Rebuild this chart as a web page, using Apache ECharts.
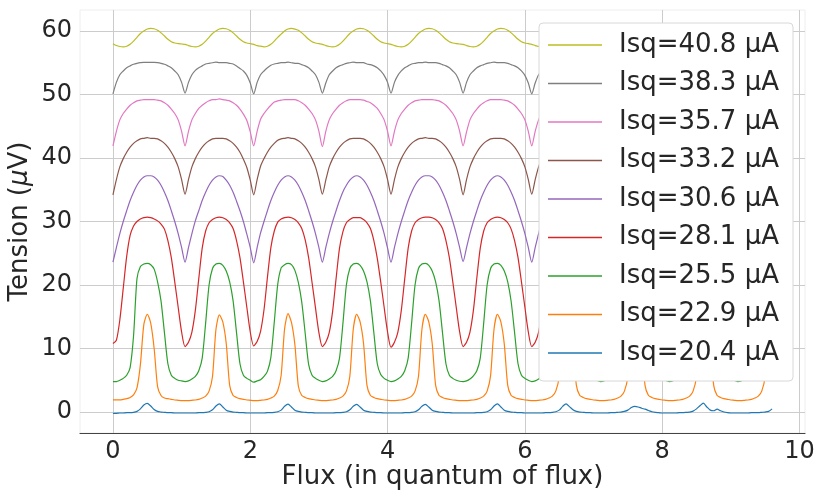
<!DOCTYPE html>
<html><head><meta charset="utf-8">
<script src="https://cdn.jsdelivr.net/npm/echarts@6/dist/echarts.min.js"></script>
<style>html,body{margin:0;padding:0;background:#fff}#c{width:816px;height:491px}</style>
</head><body><div id="c"></div>
<script>
const flux = [
0,0.05,0.1,0.15,0.2,0.25,0.3,0.35,0.4,0.45,0.5,0.55,0.6,0.65,0.7,0.75,0.8,0.85,0.9,0.95,
1,1.05,1.1,1.15,1.2,1.25,1.3,1.35,1.4,1.45,1.5,1.55,1.6,1.65,1.7,1.75,1.8,1.85,1.9,1.95,
2,2.05,2.1,2.15,2.2,2.25,2.3,2.35,2.4,2.45,2.5,2.55,2.6,2.65,2.7,2.75,2.8,2.85,2.9,2.95,
3,3.05,3.1,3.15,3.2,3.25,3.3,3.35,3.4,3.45,3.5,3.55,3.6,3.65,3.7,3.75,3.8,3.85,3.9,3.95,
4,4.05,4.1,4.15,4.2,4.25,4.3,4.35,4.4,4.45,4.5,4.55,4.6,4.65,4.7,4.75,4.8,4.85,4.9,4.95,
5,5.05,5.1,5.15,5.2,5.25,5.3,5.35,5.4,5.45,5.5,5.55,5.6,5.65,5.7,5.75,5.8,5.85,5.9,5.95,
6,6.05,6.1,6.15,6.2,6.25,6.3,6.35,6.4,6.45,6.5,6.55,6.6,6.65,6.7,6.75,6.8,6.85,6.9,6.95,
7,7.05,7.1,7.15,7.2,7.25,7.3,7.35,7.4,7.45,7.5,7.55,7.6,7.65,7.7,7.75,7.8,7.85,7.9,7.95,
8,8.05,8.1,8.15,8.2,8.25,8.3,8.35,8.4,8.45,8.5,8.55,8.6,8.65,8.7,8.75,8.8,8.85,8.9,8.95,
9,9.05,9.1,9.15,9.2,9.25,9.3,9.35,9.4,9.45,9.5,9.55,9.6];

const isq204 = [-0.2,
-0.2,-0.15,-0.15,-0.1,-0.1,-0.05,0.1,0.5,1.1,1.35,0.95,0.4,0.1,0.0,-0.05,-0.1,-0.1,-0.15,-0.15,-0.15,
-0.15,-0.15,-0.15,-0.15,-0.1,-0.1,-0.05,0.05,0.35,0.95,1.3,0.8,0.3,0.1,0.0,-0.05,-0.1,-0.1,-0.15,-0.15,
-0.15,-0.15,-0.15,-0.15,-0.1,-0.1,-0.05,0.05,0.3,0.9,1.25,0.8,0.3,0.1,0.0,-0.05,-0.1,-0.1,-0.15,-0.15,
-0.15,-0.15,-0.15,-0.15,-0.1,-0.1,-0.05,0.05,0.35,0.9,1.2,0.8,0.3,0.1,0.0,-0.05,-0.1,-0.1,-0.15,-0.15,
-0.15,-0.15,-0.15,-0.15,-0.1,-0.1,-0.05,0.05,0.35,0.9,1.2,0.8,0.3,0.1,0.0,-0.05,-0.1,-0.1,-0.15,-0.15,
-0.15,
-0.15,-0.15,-0.15,-0.15,-0.1,-0.1,-0.05,0.05,0.35,0.95,1.3,0.8,0.3,0.1,0.0,-0.05,-0.1,-0.1,-0.15,-0.15,
-0.15,-0.15,-0.15,-0.15,-0.1,-0.1,-0.05,0.05,0.3,0.9,1.3,0.85,0.35,0.1,0.0,-0.05,-0.1,-0.1,-0.15,-0.15,
-0.15,-0.15,-0.15,-0.1,-0.1,-0.05,0.0,0.1,0.3,0.7,0.9,0.8,0.6,0.45,0.25,0.05,-0.05,-0.1,-0.15,-0.15,
-0.15,-0.15,-0.15,-0.1,-0.1,-0.05,0.0,0.15,0.5,1.0,1.4,0.8,0.3,0.2,0.45,0.2,0.0,-0.1,-0.15,-0.15,
-0.15,-0.15,-0.15,-0.15,-0.1,-0.1,-0.1,-0.05,0.0,0.1,0.5];

const isq229 = [1.9,
1.9,1.9,2.0,2.1,2.3,2.7,3.8,7.5,13.8,15.4,14.0,10.0,4.0,2.6,2.2,2.1,2.0,1.9,1.85,1.8,
1.8,1.8,1.85,1.9,2.0,2.2,2.5,3.3,5.6,13.0,15.3,14.2,10.8,4.2,2.6,2.3,2.1,2.0,1.9,1.85,
1.8,1.8,1.85,1.9,2.0,2.2,2.5,3.4,5.8,13.1,15.5,14.1,10.6,4.1,2.6,2.3,2.1,2.0,1.9,1.85,
1.8,1.8,1.85,1.9,2.0,2.2,2.5,3.3,5.6,13.0,15.4,14.2,10.8,4.2,2.6,2.3,2.1,2.0,1.9,1.85,
1.8,1.8,1.85,1.9,2.0,2.2,2.5,3.3,5.6,13.0,15.4,14.2,10.8,4.2,2.6,2.3,2.1,2.0,1.9,1.85,
1.8,
1.8,1.8,1.85,1.9,2.0,2.2,2.5,3.3,5.7,13.0,15.4,14.2,10.7,4.2,2.6,2.3,2.1,2.0,1.9,1.85,
1.8,1.8,1.85,1.9,2.0,2.2,2.5,3.3,5.6,13.1,15.5,14.2,10.8,4.2,2.6,2.3,2.1,2.0,1.9,1.85,
1.8,1.8,1.85,1.9,2.0,2.2,2.5,3.3,5.6,13.0,15.4,14.2,10.8,4.2,2.6,2.3,2.1,2.0,1.9,1.85,
1.8,1.8,1.85,1.9,2.0,2.2,2.5,3.3,5.6,13.0,15.3,14.1,10.8,4.2,2.6,2.3,2.1,2.0,1.9,1.85,
1.8,1.8,1.85,1.9,2.0,2.2,2.5,3.3,5.6,13.0,15.4];

const isq255 = [4.8,
4.8,5.0,5.3,5.8,7.0,12.0,21.0,22.9,23.3,23.4,23.2,22.5,20.5,17.5,12.5,7.6,5.8,5.3,5.0,4.9,
4.8,4.9,5.2,5.6,6.5,8.5,14.0,20.0,22.6,23.3,23.4,23.1,22.2,20.5,17.5,12.5,7.6,5.8,5.3,5.0,
4.7,4.9,5.1,5.6,6.4,8.6,14.2,20.1,22.7,23.2,23.4,23.2,22.3,20.4,17.3,12.4,7.5,5.8,5.3,5.0,
4.8,4.9,5.2,5.6,6.5,8.5,14.0,20.0,22.6,23.3,23.4,23.1,22.2,20.5,17.5,12.5,7.6,5.9,5.3,5.0,
4.8,4.9,5.2,5.6,6.5,8.5,14.0,20.0,22.6,23.3,23.4,23.1,22.2,20.5,17.5,12.5,7.6,5.8,5.3,5.0,
4.85,
4.8,4.9,5.2,5.7,6.5,8.5,14.0,20.0,22.6,23.3,23.4,23.1,22.2,20.5,17.4,12.5,7.6,5.8,5.3,5.0,
4.8,4.9,5.2,5.6,6.5,8.4,13.9,20.0,22.6,23.3,23.4,23.1,22.2,20.5,17.5,12.5,7.6,5.8,5.3,5.0,
4.8,4.9,5.2,5.6,6.5,8.5,14.0,20.0,22.6,23.3,23.4,23.1,22.2,20.5,17.5,12.5,7.7,5.8,5.3,5.0,
4.8,4.9,5.2,5.6,6.5,8.5,14.0,20.0,22.6,23.3,23.4,23.1,22.2,20.5,17.5,12.5,7.6,5.8,5.3,5.0,
4.8,4.9,5.2,5.6,6.5,8.5,14.0,20.0,22.6,23.3,23.4];

const isq281 = [10.8,
11.3,14.5,19.5,24.5,27.8,29.3,30.0,30.4,30.6,30.7,30.6,30.4,30.1,29.6,28.8,27.0,24.3,20.5,16.5,12.6,
10.3,11.0,12.6,16.0,21.0,25.8,28.5,29.8,30.3,30.6,30.7,30.6,30.3,29.8,28.9,27.0,24.3,20.5,16.5,12.6,
10.4,11.1,12.7,16.1,21.2,25.9,28.5,29.9,30.4,30.6,30.7,30.6,30.3,29.8,28.9,27.1,24.3,20.4,16.4,12.5,
10.3,11.0,12.5,15.9,21.0,25.8,28.4,29.8,30.3,30.6,30.6,30.6,30.3,29.8,28.9,27.0,24.2,20.5,16.5,12.6,
10.2,11.0,12.6,16.0,21.0,25.8,28.5,29.8,30.3,30.6,30.7,30.7,30.6,30.3,29.8,28.9,27.0,24.3,20.5,16.5,12.6,
10.3,11.0,12.6,16.0,21.1,25.8,28.5,29.8,30.3,30.6,30.7,30.6,30.3,29.8,28.8,27.0,24.3,20.5,16.5,12.6,
10.3,11.0,12.6,16.0,21.0,25.7,28.5,29.8,30.3,30.6,30.7,30.6,30.3,29.8,28.9,27.0,24.3,20.5,16.6,12.7,
10.4,11.1,12.6,16.0,21.0,25.8,28.5,29.8,30.3,30.6,30.7,30.6,30.3,29.8,28.9,27.0,24.3,20.5,16.5,12.6,
10.3,11.0,12.6,16.0,21.0,25.8,28.5,29.8,30.3,30.6,30.6,30.6,30.3,29.8,28.9,27.0,24.3,20.4,16.5,12.6,
10.3,11.0,12.6,16.0,21.0,25.8,28.5,29.8,30.3,30.6,30.7];

const isq306 = [23.6,
25.9,28.1,30.0,31.7,33.3,34.6,35.7,36.5,37.0,37.2,37.2,37.0,36.5,35.7,34.6,33.3,31.7,30.0,28.1,25.9,
23.6,25.9,28.1,30.1,31.7,33.3,34.6,35.7,36.5,37.0,37.2,37.1,36.5,35.7,34.6,33.2,31.7,30.0,28.0,25.9,
23.5,25.9,28.2,30.0,31.7,33.3,34.6,35.7,36.5,37.0,37.2,37.0,36.5,35.7,34.6,33.3,31.7,30.0,28.1,25.9,
23.6,25.9,28.1,30.0,31.7,33.3,34.7,35.7,36.5,37.0,37.2,37.0,36.5,35.7,34.6,33.3,31.7,30.0,28.1,25.8,
23.6,25.9,28.1,30.0,31.7,33.3,34.6,35.7,36.5,37.0,37.2,37.2,37.0,36.5,35.7,34.6,33.3,31.7,30.0,28.1,25.9,
23.7,25.9,28.1,30.0,31.7,33.3,34.6,35.7,36.5,37.0,37.2,37.0,36.5,35.7,34.6,33.3,31.7,30.0,28.1,25.9,
23.6,25.9,28.1,30.0,31.8,33.3,34.6,35.7,36.5,37.0,37.2,37.0,36.5,35.7,34.6,33.3,31.7,30.0,28.1,25.9,
23.6,25.9,28.1,30.0,31.7,33.3,34.6,35.7,36.5,37.0,37.2,37.0,36.5,35.7,34.6,33.3,31.7,30.0,28.1,25.9,
23.5,25.9,28.1,30.0,31.7,33.3,34.6,35.7,36.5,37.0,37.2,37.0,36.5,35.7,34.6,33.3,31.7,30.0,28.1,25.9,
23.6,25.9,28.1,30.0,31.7,33.3,34.6,35.7,36.5,37.0,37.2];

const isq332 = [34.2,
36.6,38.6,39.9,40.9,41.7,42.3,42.7,43.0,43.1,43.2,43.1,43.1,43.0,42.7,42.3,41.7,40.9,39.9,38.6,36.6,
34.3,36.6,38.6,39.9,40.9,41.7,42.3,42.7,43.0,43.1,43.1,43.1,43.0,42.7,42.3,41.7,40.9,39.8,38.5,36.5,
34.2,36.6,38.7,39.9,40.9,41.7,42.3,42.8,43.0,43.1,43.2,43.1,43.0,42.7,42.3,41.7,40.9,39.9,38.6,36.6,
34.3,36.5,38.6,39.9,40.9,41.7,42.3,42.7,43.0,43.1,43.1,43.1,43.0,42.7,42.3,41.7,40.9,39.9,38.6,36.6,
34.3,36.6,38.6,39.9,40.9,41.7,42.3,42.7,43.0,43.1,43.2,43.1,43.1,43.0,42.7,42.3,41.7,40.9,39.9,38.6,36.6,
34.2,36.6,38.6,39.9,40.9,41.7,42.3,42.7,43.0,43.1,43.1,43.1,43.0,42.7,42.3,41.7,40.9,39.9,38.6,36.6,
34.3,36.6,38.6,39.9,40.8,41.7,42.3,42.7,43.0,43.1,43.2,43.1,43.0,42.7,42.3,41.7,40.9,39.9,38.6,36.5,
34.3,36.6,38.6,39.9,40.9,41.7,42.3,42.7,43.0,43.1,43.1,43.1,43.0,42.7,42.3,41.7,40.9,39.9,38.6,36.6,
34.2,36.6,38.6,39.9,40.9,41.7,42.3,42.7,43.0,43.1,43.2,43.1,43.0,42.7,42.3,41.6,40.9,39.9,38.6,36.6,
34.3,36.6,38.6,39.9,40.9,41.7,42.3,42.7,43.0,43.1,43.1];

const isq357 = [41.9,
44.2,46.0,47.0,47.7,48.3,48.7,49.0,49.1,49.2,49.2,49.2,49.2,49.1,49.0,48.7,48.3,47.7,47.0,46.0,44.2,
41.9,44.2,46.0,47.0,47.8,48.3,48.7,49.0,49.2,49.2,49.3,49.2,49.1,49.0,48.7,48.3,47.7,46.9,45.9,44.1,
41.9,44.2,46.1,47.0,47.7,48.3,48.8,49.0,49.1,49.2,49.2,49.2,49.2,49.0,48.7,48.3,47.7,47.0,46.0,44.2,
41.8,44.2,46.0,47.0,47.7,48.3,48.7,49.0,49.2,49.2,49.2,49.2,49.1,48.9,48.7,48.3,47.8,47.0,46.0,44.2,
41.9,44.2,46.0,47.0,47.7,48.3,48.7,49.0,49.1,49.2,49.2,49.2,49.2,49.1,49.0,48.7,48.3,47.7,47.0,46.0,44.2,
41.9,44.1,46.0,47.0,47.7,48.3,48.7,49.0,49.2,49.2,49.2,49.2,49.1,49.0,48.7,48.3,47.7,47.0,46.0,44.2,
41.9,44.2,46.0,47.1,47.7,48.3,48.7,49.0,49.1,49.2,49.2,49.2,49.1,49.0,48.7,48.3,47.7,47.0,45.9,44.2,
41.9,44.2,46.0,47.0,47.7,48.3,48.7,49.0,49.2,49.2,49.3,49.2,49.1,49.0,48.7,48.3,47.7,47.0,46.0,44.2,
41.8,44.2,46.0,47.0,47.7,48.3,48.7,49.0,49.1,49.2,49.2,49.2,49.2,49.0,48.7,48.3,47.7,47.0,46.0,44.1,
41.9,44.2,46.0,47.0,47.7,48.3,48.7,49.0,49.1,49.2,49.2];

const isq383 = [50.1,
51.9,53.1,53.7,54.2,54.5,54.75,54.9,55.0,55.05,55.05,55.05,55.05,55.0,54.9,54.75,54.5,54.2,53.7,53.1,51.9,
50.2,51.9,53.1,53.8,54.2,54.5,54.8,54.9,55.0,55.1,55.0,55.0,55.0,54.9,54.8,54.5,54.1,53.7,53.0,51.8,
50.1,51.9,53.1,53.7,54.2,54.6,54.8,54.9,55.0,55.0,55.1,55.0,54.9,54.9,54.7,54.5,54.2,53.7,53.1,51.9,
50.2,51.8,53.1,53.7,54.2,54.5,54.7,54.9,55.0,55.1,55.0,55.0,55.0,54.8,54.7,54.5,54.2,53.7,53.0,51.9,
50.2,51.9,53.0,53.7,54.2,54.5,54.8,54.9,55.0,55.0,55.1,55.0,55.0,55.0,54.9,54.7,54.5,54.2,53.7,53.1,51.9,
50.2,51.9,53.1,53.7,54.2,54.5,54.7,54.9,55.0,55.1,55.0,55.0,55.0,54.9,54.7,54.5,54.2,53.7,53.0,51.8,
50.1,51.8,53.1,53.7,54.2,54.5,54.8,54.9,55.0,55.0,55.1,55.0,54.9,54.9,54.7,54.5,54.2,53.7,53.1,51.9,
50.2,51.9,53.0,53.7,54.2,54.5,54.7,54.9,55.0,55.1,55.0,55.0,55.0,54.8,54.7,54.5,54.2,53.6,53.1,51.9,
50.2,51.9,53.1,53.8,54.2,54.5,54.7,54.9,55.0,55.0,55.1,55.0,55.0,54.9,54.7,54.5,54.2,53.7,53.0,51.8,
50.1,51.8,53.1,53.7,54.2,54.5,54.8,54.9,55.0,55.0,55.1];

const isq408 = [58.0,
57.7,57.55,57.5,57.6,57.9,58.4,59.0,59.6,60.0,60.3,60.4,60.35,60.1,59.7,59.2,58.7,58.3,58.1,58.0,57.95,
57.9,57.7,57.55,57.5,57.6,57.9,58.4,59.0,59.6,60.0,60.3,60.4,60.35,60.1,59.7,59.2,58.7,58.3,58.1,58.0,
57.9,57.7,57.6,57.5,57.6,57.9,58.4,59.0,59.5,60.0,60.3,60.4,60.3,60.1,59.7,59.2,58.7,58.3,58.1,58.0,
57.9,57.7,57.55,57.5,57.6,57.9,58.4,59.0,59.6,60.0,60.3,60.4,60.35,60.1,59.7,59.2,58.7,58.3,58.1,58.0,
57.9,57.7,57.55,57.5,57.6,57.9,58.4,59.0,59.6,60.0,60.3,60.4,60.35,60.1,59.7,59.2,58.7,58.3,58.1,58.0,
57.95,
57.9,57.7,57.55,57.5,57.6,57.9,58.4,59.0,59.6,60.0,60.3,60.4,60.35,60.1,59.7,59.2,58.7,58.3,58.1,58.0,
57.9,57.7,57.55,57.5,57.6,57.9,58.4,59.0,59.6,60.0,60.3,60.4,60.35,60.1,59.7,59.2,58.7,58.3,58.1,58.0,
57.9,57.7,57.55,57.5,57.6,57.9,58.4,59.0,59.6,60.0,60.3,60.4,60.35,60.1,59.7,59.2,58.7,58.3,58.1,58.0,
57.9,57.7,57.55,57.5,57.6,57.9,58.4,59.0,59.6,60.0,60.3,60.4,60.35,60.1,59.7,59.2,58.7,58.3,58.1,58.0,
57.9,57.7,57.55,57.5,57.6,57.9,58.4,59.0,59.6,60.0,60.3];

const seriesNames = ['Isq=20.4 µA','Isq=22.9 µA','Isq=25.5 µA','Isq=28.1 µA','Isq=30.6 µA','Isq=33.2 µA','Isq=35.7 µA','Isq=38.3 µA','Isq=40.8 µA'];
const seriesValues = [isq204, isq229, isq255, isq281, isq306, isq332, isq357, isq383, isq408];
const seriesColors = ['#1f77b4','#ff7f0e','#2ca02c','#d62728','#9467bd','#8c564b','#e377c2','#7f7f7f','#bcbd22'];
const xTicks = [0, 2, 4, 6, 8, 10];
const yTicks = [0, 10, 20, 30, 40, 50, 60];

seriesValues.forEach((arr, k) => {
  if (arr.length !== flux.length) throw new Error(seriesNames[k] + ' length ' + arr.length + ' vs ' + flux.length);
});

const FONT = 'DejaVu Sans';
const chart = echarts.init(document.getElementById('c'), null, {renderer: 'canvas'});
chart.setOption({
  animation: false,
  backgroundColor: '#ffffff',
  textStyle: {fontFamily: FONT},
  grid: {left: 80, right: 11, top: 10, bottom: 58, outerBoundsMode: 'none', containLabel: false,
    show: true, borderColor: '#eeeeee', borderWidth: 1, backgroundColor: 'transparent'},
  xAxis: {
    type: 'value', min: -0.48, max: 10.08,
    axisLine: {show: true, onZero: false, lineStyle: {color: '#444444', width: 1.2}},
    axisTick: {show: false, customValues: xTicks},
    axisLabel: {customValues: xTicks, fontSize: 24, color: '#262626', margin: 7, fontFamily: FONT},
    splitLine: {show: true, lineStyle: {color: '#cccccc', width: 1}},
    name: 'Flux (in quantum of flux)', nameLocation: 'middle', nameGap: 31, nameMoveOverlap: false,
    nameTextStyle: {fontSize: 26, color: '#262626', fontFamily: FONT}
  },
  yAxis: {
    type: 'value', min: -3.3, max: 63.3,
    axisLine: {show: false},
    axisTick: {show: false, customValues: yTicks},
    axisLabel: {customValues: yTicks, fontSize: 24, color: '#262626', margin: 8, fontFamily: FONT},
    splitLine: {show: true, lineStyle: {color: '#cccccc', width: 1}},
    name: 'Tension ({i|μ}V)', nameLocation: 'middle', nameGap: 47, nameMoveOverlap: false,
    nameTextStyle: {fontSize: 26, color: '#262626', fontFamily: FONT,
      rich: {i: {fontStyle: 'italic', fontSize: 26, color: '#262626', fontFamily: FONT}}}
  },
  legend: {
    data: seriesNames.slice().reverse(),
    orient: 'vertical', right: 23, top: 23, align: 'left',
    icon: 'rect', itemWidth: 54, itemHeight: 1.3, itemGap: 12.5,
    padding: [9, 14, 15, 9],
    backgroundColor: '#ffffff', borderColor: '#d8d8d8', borderWidth: 1, borderRadius: 4,
    textStyle: {fontSize: 26, color: '#262626', fontFamily: FONT, padding: [0, 0, 0, 12]}
  },
  series: seriesNames.map((name, k) => ({
    name: name, type: 'line', showSymbol: false, smooth: 0.25,
    data: flux.map((x, i) => [x, seriesValues[k][i]]),
    lineStyle: {color: seriesColors[k], width: 1.2},
    itemStyle: {color: seriesColors[k]},
    emphasis: {disabled: true}
  }))
});
</script>
</body></html>
